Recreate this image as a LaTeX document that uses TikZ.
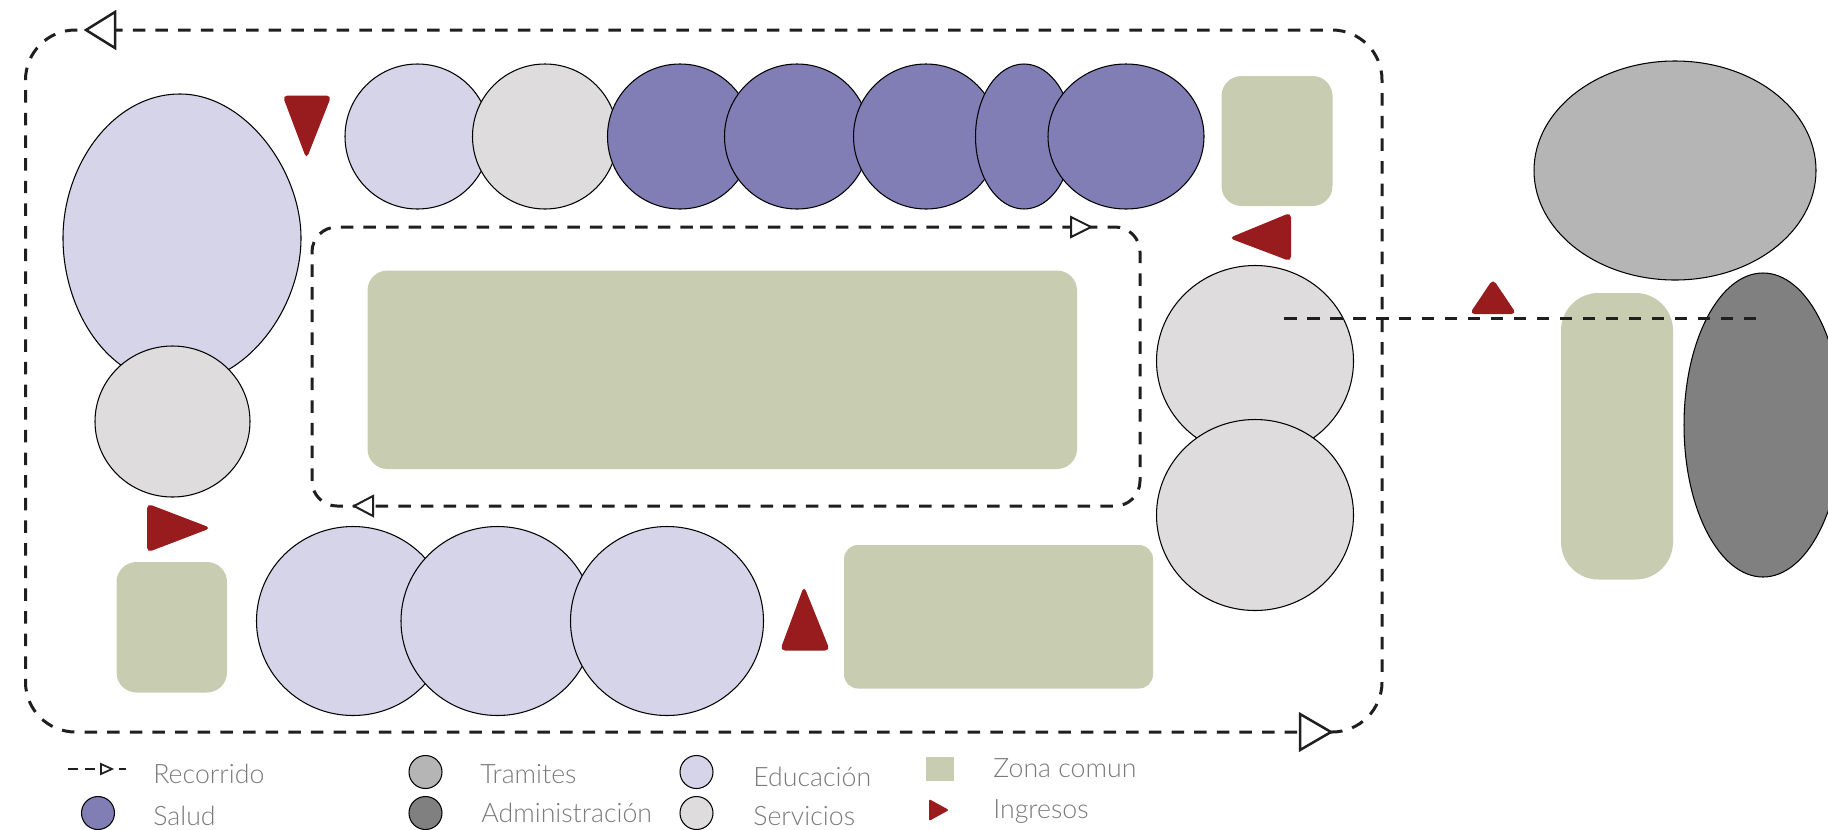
\documentclass[tikz,border=0pt]{standalone}
\usepackage{fontspec}
\setmainfont{Lato}[UprightFont=* Light]
\usetikzlibrary{shapes.geometric}
\definecolor{educacion}{HTML}{D6D4E9}
\definecolor{servicios}{HTML}{DEDCDD}
\definecolor{salud}{HTML}{817DB5}
\definecolor{tramites}{HTML}{B5B5B5}
\definecolor{admin}{HTML}{808080}
\definecolor{zona}{HTML}{C8CCB0}
\definecolor{ingreso}{HTML}{981B1E}
\definecolor{rotulo}{HTML}{7A7A7A}
\tikzset{
  espacio/.style={ellipse,draw=black,line width=0.6pt,inner sep=0pt,outer sep=0pt},
  recorrido/.style={draw=black!88,line width=0.06cm,dash pattern=on 0.25cm off 0.203cm},
  flecha/.style={draw=black!88,line width=0.05cm,fill=white},
  ingresotri/.style={fill=ingreso,rounded corners=0.1cm},
  rotulotxt/.style={anchor=base west,inner sep=0pt,text=rotulo,font=\fontsize{15.2}{18}\selectfont},
}
\begin{document}
\begin{tikzpicture}[x=0.02cm,y=-0.02cm]
  \useasboundingbox (0,0) rectangle (1828,829);
  \begin{scope}
    \clip (0,0) rectangle (1828,829);
    % edificio izquierdo
    \draw[fill=educacion,line width=0.6pt] (63,238) .. controls (63,165) and (113,94) .. (180,94)
      .. controls (245,94) and (301,170) .. (301,238)
      .. controls (301,310) and (245,384) .. (178,384)
      .. controls (108,384) and (63,310) .. (63,238);
    \node[espacio,fill=servicios,minimum width=155*0.02cm,minimum height=151*0.02cm] (servA) at (172.5,421.5) {};
    % fila superior
    \node[espacio,fill=educacion,minimum width=145*0.02cm,minimum height=145*0.02cm] (eduA) at (417.5,136.5) {};
    \node[espacio,fill=servicios,minimum width=145*0.02cm,minimum height=145*0.02cm] (servB) at (545,136.5) {};
    \node[espacio,fill=salud,minimum width=145*0.02cm,minimum height=145*0.02cm] (saludA) at (680,136.5) {};
    \node[espacio,fill=salud,minimum width=145*0.02cm,minimum height=145*0.02cm] (saludB) at (797,136.5) {};
    \node[espacio,fill=salud,minimum width=145*0.02cm,minimum height=145*0.02cm] (saludC) at (926,136.5) {};
    \node[espacio,fill=salud,minimum width=97*0.02cm,minimum height=145*0.02cm] (saludD) at (1024,136.5) {};
    \node[espacio,fill=salud,minimum width=156*0.02cm,minimum height=145*0.02cm] (saludE) at (1126,136.5) {};
    % circulos derecha
    \node[espacio,fill=servicios,minimum width=197*0.02cm,minimum height=191*0.02cm] (servC) at (1255,361) {};
    \node[espacio,fill=servicios,minimum width=197*0.02cm,minimum height=191*0.02cm] (servD) at (1255,515) {};
    % fila inferior
    \node[espacio,fill=educacion,minimum width=193*0.02cm,minimum height=189*0.02cm] (eduB) at (353,621) {};
    \node[espacio,fill=educacion,minimum width=193*0.02cm,minimum height=189*0.02cm] (eduC) at (497.5,621) {};
    \node[espacio,fill=educacion,minimum width=193*0.02cm,minimum height=189*0.02cm] (eduD) at (667,621) {};
    % zonas comunes
    \fill[zona,rounded corners=0.4cm] (1221.5,76) rectangle (1332.5,206);
    \fill[zona,rounded corners=0.4cm] (367.5,270.5) rectangle (1077,469);
    \fill[zona,rounded corners=0.28cm] (844,545) rectangle (1153,688.5);
    \fill[zona,rounded corners=0.4cm] (116.5,562) rectangle (227,692.5);
    \fill[zona,rounded corners=0.75cm] (1561,293) rectangle (1673,579.5);
    % bloque derecho
    \node[espacio,fill=tramites,minimum width=282*0.02cm,minimum height=219*0.02cm] (tramiteA) at (1675,170.5) {};
    \node[espacio,fill=admin,minimum width=158*0.02cm,minimum height=304*0.02cm] (adminA) at (1763,425) {};
    % ingresos
    \fill[ingresotri] (282.5,95.5) -- (331.5,95.5) -- (306.5,159) -- cycle;
    \fill[ingresotri] (1229,238) -- (1291,212.5) -- (1291,261.5) -- cycle;
    \fill[ingresotri] (1493,279) -- (1469.5,314) -- (1516.5,314) -- cycle;
    \fill[ingresotri] (147,503.5) -- (147,552.5) -- (211,528) -- cycle;
    \fill[ingresotri] (804,586) -- (780,650.5) -- (830,650.5) -- cycle;
    % recorridos
    \draw[recorrido,rounded corners=1cm] (1382,400) -- (1382,30) -- (25.5,30) -- (25.5,732) -- (1382,732) -- (1382,400);
    \draw[recorrido,rounded corners=0.5cm] (700,227) -- (1140,227) -- (1140,506) -- (312,506) -- (312,227) -- (700,227);
    \coordinate (accesoA) at (1284,318);
    \coordinate (accesoB) at (1757,318);
    \draw[recorrido,dash pattern=on 0.25cm off 0.21cm] (accesoA) -- (accesoB);
    \filldraw[flecha] (86,30) -- (115,12) -- (115,48) -- cycle;
    \filldraw[flecha] (1331,732) -- (1300,714) -- (1300,750) -- cycle;
    \filldraw[flecha,line width=0.04cm] (1091,227) -- (1071,217) -- (1071,237) -- cycle;
    \filldraw[flecha,line width=0.04cm] (354,506) -- (373,496) -- (373,516) -- cycle;
  \end{scope}
  % leyenda
  \coordinate (leyA) at (68,769);
  \coordinate (leyB) at (126,769);
  \draw[recorrido,line width=0.045cm,dash pattern=on 0.2cm off 0.14cm] (leyA) -- (leyB);
  \filldraw[flecha,line width=0.035cm] (112,769) -- (101,764) -- (101,774) -- cycle;
  \node[rotulotxt] (txtRecorrido) at (153,783) {Recorrido};
  \node[espacio,fill=salud,minimum width=33*0.02cm,minimum height=33*0.02cm] (leySalud) at (98,813) {};
  \node[rotulotxt] (txtSalud) at (153,825) {Salud};
  \node[espacio,fill=tramites,minimum width=33*0.02cm,minimum height=33*0.02cm] (leyTramites) at (425.5,772) {};
  \node[rotulotxt] (txtTramites) at (480,783) {Tramites};
  \node[espacio,fill=admin,minimum width=33*0.02cm,minimum height=33*0.02cm] (leyAdmin) at (425.5,813) {};
  \node[rotulotxt] (txtAdmin) at (481,822) {Administración};
  \node[espacio,fill=educacion,minimum width=33*0.02cm,minimum height=33*0.02cm] (leyEdu) at (696.5,772) {};
  \node[rotulotxt] (txtEdu) at (753,786) {Educación};
  \node[espacio,fill=servicios,minimum width=33*0.02cm,minimum height=33*0.02cm] (leyServ) at (696.5,813) {};
  \node[rotulotxt] (txtServ) at (753,825) {Servicios};
  \fill[zona] (926,757) rectangle (953.5,781);
  \node[rotulotxt] (txtZona) at (993,777) {Zona comun};
  \fill[ingresotri,rounded corners=0.04cm] (929,799) -- (949,810) -- (929,821) -- cycle;
  \node[rotulotxt] (txtIngresos) at (993,818) {Ingresos};
\end{tikzpicture}
\end{document}
